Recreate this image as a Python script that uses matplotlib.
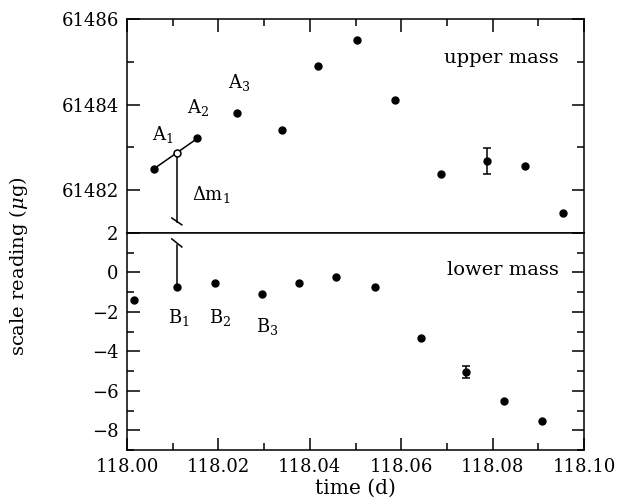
import numpy as np
import matplotlib
matplotlib.use("Agg")
import matplotlib.pyplot as plt
from matplotlib.ticker import MultipleLocator, FormatStrFormatter

plt.rcParams['font.family'] = ['DejaVu Serif']
plt.rcParams['mathtext.fontset'] = 'dejavuserif'
plt.rcParams['font.size'] = 13

# upper mass readings (time in d, reading in ug)
t_up = [118.0059, 118.0154, 118.0240, 118.0340, 118.0419, 118.0503,
        118.0587, 118.0688, 118.0788, 118.0870, 118.0954]
m_up = [61482.50, 61483.21, 61483.80, 61483.40, 61484.91, 61485.50,
        61484.10, 61482.38, 61482.68, 61482.57, 61481.47]
err_up_idx = 8
err_up = 0.31

# lower mass readings
t_lo = [118.0015, 118.0109, 118.0193, 118.0295, 118.0376, 118.0457,
        118.0543, 118.0643, 118.0742, 118.0825, 118.0909]
m_lo = [-1.40, -0.72, -0.52, -1.10, -0.52, -0.23,
        -0.74, -3.32, -5.04, -6.53, -7.51]
err_lo_idx = 8
err_lo = 0.30

fig = plt.figure(figsize=(6.18, 5.01), dpi=100)
ax1 = fig.add_axes([0.2055, 0.535, 0.7395, 0.427])
ax2 = fig.add_axes([0.2055, 0.1018, 0.7395, 0.4332], sharex=ax1)

ms = 5
ax1.plot(t_up, m_up, 'o', color='black', ms=ms)
ax1.errorbar(t_up[err_up_idx], m_up[err_up_idx], yerr=err_up, fmt='none',
             ecolor='black', capsize=3, elinewidth=1.1, capthick=1.1)
ax2.plot(t_lo, m_lo, 'o', color='black', ms=ms)
ax2.errorbar(t_lo[err_lo_idx], m_lo[err_lo_idx], yerr=err_lo, fmt='none',
             ecolor='black', capsize=3, elinewidth=1.1, capthick=1.1)

# interpolation A1-A2 at time of B1
tb1 = t_lo[1]
ma = np.interp(tb1, t_up[:2], m_up[:2])
ax1.plot(t_up[:2], m_up[:2], '-', color='black', lw=1.1)
ax1.plot(tb1, ma, 'o', mfc='white', mec='black', ms=ms, mew=1.1)
ax1.plot([tb1, tb1], [ma, 61481.26], '-', color='black', lw=1.1, zorder=1)
ax1.plot([tb1 - 0.0011, tb1 + 0.0011], [61481.35, 61481.19], '-', color='black', lw=1.1)
ax2.plot([tb1, tb1], [m_lo[1], 1.39], '-', color='black', lw=1.1, zorder=1)
ax2.plot([tb1 - 0.0011, tb1 + 0.0011], [1.70, 1.29], '-', color='black', lw=1.1)

ax1.text(118.0055, 61483.17, r'A$_1$', ha='left', va='baseline')
ax1.text(118.0131, 61483.80, r'A$_2$', ha='left', va='baseline')
ax1.text(118.0221, 61484.39, r'A$_3$', ha='left', va='baseline')
ax1.text(118.0142, 61481.77, r'$\Delta$m$_1$', ha='left', va='baseline')
ax1.text(118.0945, 61484.97, 'upper mass', ha='right', va='baseline', fontsize=14)
ax2.text(118.0090, -2.55, r'B$_1$', ha='left', va='baseline')
ax2.text(118.0179, -2.55, r'B$_2$', ha='left', va='baseline')
ax2.text(118.0282, -3.00, r'B$_3$', ha='left', va='baseline')
ax2.text(118.0945, -0.12, 'lower mass', ha='right', va='baseline', fontsize=14)

ax1.set_xlim(118.00, 118.10)
ax1.set_ylim(61481, 61486)
ax2.set_ylim(-9, 2)

for ax in (ax1, ax2):
    ax.xaxis.set_major_locator(MultipleLocator(0.02))
    ax.xaxis.set_minor_locator(MultipleLocator(0.01))
    ax.tick_params(which='both', direction='in', left=True, right=True, width=1.1)
    ax.tick_params(which='major', length=9)
    ax.tick_params(which='minor', length=5)
    for s in ax.spines.values():
        s.set_linewidth(1.1)

ax1.yaxis.set_major_locator(MultipleLocator(2))
ax1.yaxis.set_minor_locator(MultipleLocator(1))
ax1.yaxis.set_major_formatter(FormatStrFormatter('%d'))
ax1.tick_params(axis='x', which='both', top=True, bottom=False, labelbottom=False)
ax2.yaxis.set_major_locator(MultipleLocator(2))
ax2.yaxis.set_minor_locator(MultipleLocator(1))
ax2.tick_params(axis='x', which='both', top=False, bottom=True)
ax2.xaxis.set_major_formatter(FormatStrFormatter('%.2f'))
ax1.tick_params(axis='both', which='major', pad=6)
ax2.tick_params(axis='both', which='major', pad=6)

ax2.set_xlabel('time (d)', labelpad=2, fontsize=14.5)
fig.text(0.03, 0.468, r'scale reading ($\mu$g)', rotation=90, ha='center',
         va='center', fontsize=14)

fig.savefig('out.png', dpi=100)
